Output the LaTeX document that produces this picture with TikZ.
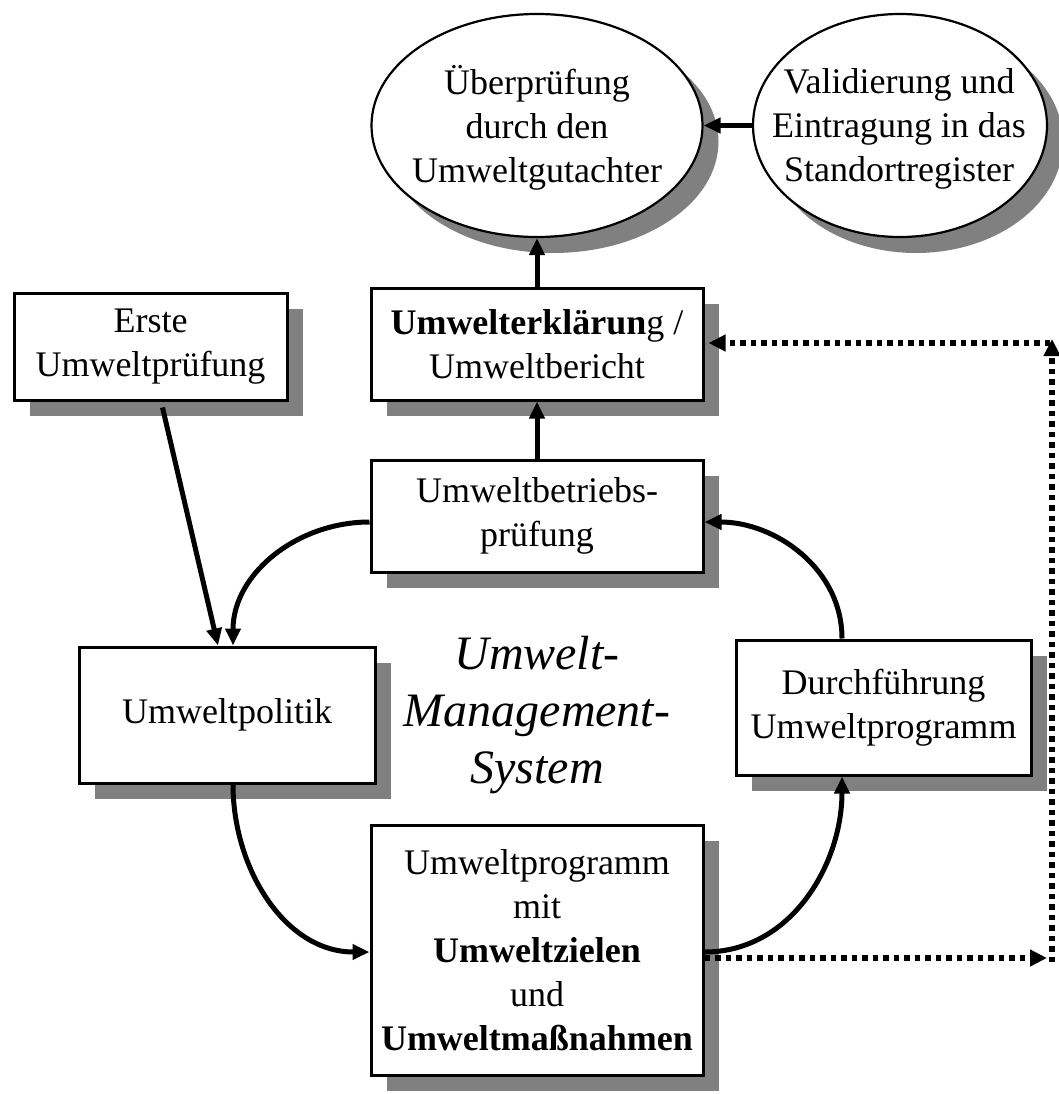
\documentclass[tikz,border=0pt]{standalone}
\usepackage{fontspec}
\setmainfont{Liberation Serif}
\usetikzlibrary{arrows.meta,shadows,calc,shapes.geometric}
\definecolor{shadowgray}{HTML}{808080}
\newcommand\txtfont{\fontsize{36pt}{44pt}\selectfont}
\begin{document}
\begin{tikzpicture}[x=1pt,y=-1pt,
  shadowed/.style={drop shadow={shadow xshift=16pt, shadow yshift=-16pt, opacity=1, fill=shadowgray}},
  box/.style={draw, line width=3pt, fill=white, inner sep=0pt, align=center, font=\txtfont, shadowed},
  ell/.style={draw, ellipse, line width=2.2pt, fill=white, inner sep=0pt, shadowed},
  txt/.style={align=center, font=\txtfont, inner sep=0pt},
  arr/.style={line width=5pt, -{Triangle[length=17pt,width=15pt]}},
  dots/.style={line width=5.5pt, dash pattern=on 5.5pt off 5pt, -{Triangle[length=17pt,width=16pt]}}
]
\useasboundingbox (0,0) rectangle (1059,1094);

% ellipses
\node[ell, minimum width=331pt, minimum height=223pt] (uep) at (537,125.5) {};
\node[txt] (uept) at (537,128) {Überprüfung\\durch den\\Umweltgutachter};
\node[ell, minimum width=294pt, minimum height=223pt] (val) at (900,125.5) {};
\node[txt] (valt) at (899,129) {Validierung und\\Eintragung in das\\Standortregister};

% boxes
\node[box, minimum width=273pt, minimum height=107pt] (erste) at (150.5,346.5) {Erste\\Umweltprüfung};
\node[box, minimum width=332pt, minimum height=112pt] (uerk) at (537,344) {\textbf{Umwelterklärun}g /\\Umweltbericht};
\node[box, minimum width=332pt, minimum height=112pt] (ubp) at (537,516) {Umweltbetriebs-\\prüfung};
\node[box, minimum width=296pt, minimum height=136pt] (upol) at (227,715) {Umweltpolitik};
\node[box, minimum width=295pt, minimum height=135pt] (durch) at (883.5,707.5) {Durchführung\\Umweltprogramm};
\node[box, minimum width=332pt, minimum height=250pt] (uprog) at (537,950) {Umweltprogramm\\mit\\\textbf{Umweltzielen}\\und\\\textbf{Umweltmaßnahmen}};

% centre title
\node[font=\fontsize{48pt}{57pt}\selectfont\itshape, align=center, inner sep=0pt] (ums) at (537,715) {Umwelt-\\Management-\\System};

% solid connectors
\draw[arr] (ubp.north) -- (uerk.south);
\draw[arr] (uerk.north) -- (uep.south);
\draw[arr] (val.west) -- (uep.east);
\draw[arr] ([shift={(12,6)}]erste.south) -- ([xshift=-9pt]upol.north);
\draw[arr] ([shift={(0,6)}]ubp.west) to[out=180,in=90] ([xshift=6pt]upol.north);
\draw[arr] ([xshift=6pt]upol.south) to[out=-90,in=180] ([shift={(0,2)}]uprog.west);
\draw[arr] ([shift={(0,2)}]uprog.east) to[out=0,in=-90] ([xshift=-41.5pt]durch.south);
\draw[arr] ([xshift=-41.5pt]durch.north) to[out=90,in=0] ([shift={(0,6)}]ubp.east);

% dotted feedback
\coordinate (dBR) at (1052,958);
\coordinate (dTR) at (1052,343);
\draw[dots] ([shift={(0,8)}]uprog.east) -- ([xshift=-5pt]dBR);
\draw[dots] ([shift={(0,4)}]dBR) -- ([shift={(0,-4)}]dTR);
\draw[dots] ([xshift=-2pt]dTR) -- ([shift={(4,-1)}]uerk.east);
\end{tikzpicture}
\end{document}
